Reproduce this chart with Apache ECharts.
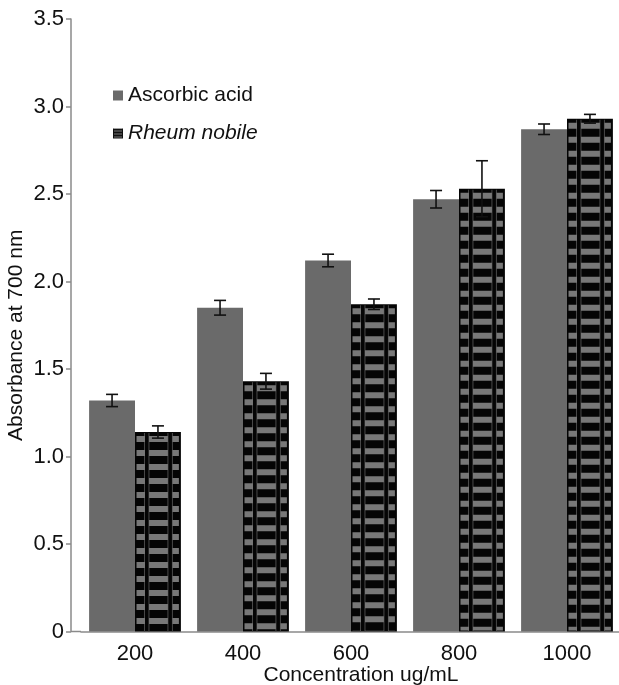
<!DOCTYPE html>
<html>
<head>
<meta charset="utf-8">
<script src="https://cdn.jsdelivr.net/npm/echarts@6/dist/echarts.min.js"></script>
<style>
  html, body { margin: 0; padding: 0; background: #fff; }
  #chart { width: 619px; height: 685px; }
</style>
</head>
<body>
<div id="chart"></div>
<script>
// data
const categories = ['200', '400', '600', '800', '1000']
const seriesNames = ['Ascorbic acid', 'Rheum nobile']
const ascorbic = [1.32, 1.85, 2.12, 2.47, 2.87]
const ascorbicErr = [0.035, 0.042, 0.036, 0.05, 0.03]
const rheum = [1.14, 1.43, 1.87, 2.53, 2.93]
const rheumErr = [0.035, 0.045, 0.03, 0.16, 0.025]
const yTicks = [0, 0.5, 1, 1.5, 2, 2.5, 3, 3.5]

const FONT = "'Liberation Sans', Arial, sans-serif"
const GRID_LEFT = 81
const GAP = 0.15           // barCategoryGap
const ROW = 14             // ladder stripe period, px
const GREY_ROW = 6

function makeIcon() {
  const c = document.createElement('canvas')
  c.width = 10; c.height = 3
  const g = c.getContext('2d')
  g.fillStyle = '#111'; g.fillRect(0, 0, 10, 3)
  g.fillStyle = '#777'; g.fillRect(1, 2, 8, 1)
  return c
}

// grey rungs + rails drawn inside each black Rheum bar
function ladderFill(vals) {
  return {
    type: 'custom',
    name: 'ladder',
    z: 3,
    silent: true,
    data: vals.map((v, i) => [i, v]),
    renderItem(params, api) {
      const i = api.value(0), v = api.value(1)
      const catW = api.size([1, 0])[0]
      const bw = catW * (1 - GAP) / 2
      const left = api.coord([i, v])[0]
      const top = api.coord([i, v])[1]
      const bottom = api.coord([i, 0])[1]
      const k = bw / 46
      const cells = [[1.5, 10], [14, 33], [37.5, 44]]
      const kids = []
      // faint edges beside the rails
      ;[9.5, 14, 33, 37.5].forEach(dx => kids.push({
        type: 'rect', shape: { x: left + dx * k - 0.5, y: top + 1, width: 1, height: bottom - top - 1 },
        style: { fill: '#4a4a4a' }
      }))
      for (let y = top + 4; y < bottom - 1; y += ROW) {
        const h = Math.min(GREY_ROW, bottom - 1 - y)
        cells.forEach(([a, b]) => kids.push({
          type: 'rect', shape: { x: left + a * k, y: y, width: (b - a) * k, height: h },
          style: { fill: '#787878' }
        }))
      }
      return { type: 'group', children: kids }
    }
  }
}

function errorBars(vals, errs, side, name) {
  return {
    type: 'custom',
    name: name,
    z: 5,
    silent: true,
    data: vals.map((v, i) => [i, v, errs[i]]),
    renderItem(params, api) {
      const i = api.value(0), v = api.value(1), e = api.value(2)
      const catW = api.size([1, 0])[0]
      const x = api.coord([i, v])[0] + side * catW * (1 - GAP) / 4
      const top = api.coord([i, v + e])[1]
      const bot = api.coord([i, v - e])[1]
      const st = { stroke: '#111', lineWidth: 1.6 }
      return {
        type: 'group',
        children: [
          { type: 'line', shape: { x1: x, y1: top, x2: x, y2: bot }, style: st },
          { type: 'line', shape: { x1: x - 6, y1: top, x2: x + 6, y2: top }, style: st },
          { type: 'line', shape: { x1: x - 6, y1: bot, x2: x + 6, y2: bot }, style: st }
        ]
      }
    }
  }
}

const chart = echarts.init(document.getElementById('chart'), null, { renderer: 'canvas' })

chart.setOption({
  animation: false,
  textStyle: { fontFamily: FONT },
  grid: { left: GRID_LEFT, right: -2, top: 19, bottom: 53.5, outerBoundsMode: 'none', containLabel: false },
  legend: {
    orient: 'vertical',
    left: 108, top: 80,
    itemWidth: 10, itemHeight: 10, itemGap: 17,
    data: [
      { name: seriesNames[0], icon: 'rect' },
      { name: seriesNames[1], icon: 'rect', itemStyle: { color: { image: makeIcon(), repeat: 'repeat' } } }
    ],
    formatter: n => n === seriesNames[1] ? '{it|' + n + '}' : n,
    textStyle: {
      fontFamily: FONT, fontSize: 21, color: '#111',
      rich: { it: { fontFamily: FONT, fontSize: 21, fontStyle: 'italic', color: '#111' } }
    }
  },
  xAxis: {
    type: 'category',
    data: categories,
    name: 'Concentration ug/mL',
    nameLocation: 'middle',
    nameGap: 33,
    nameMoveOverlap: false,
    nameTextStyle: { fontFamily: FONT, fontSize: 21, color: '#111', padding: [0, 0, 0, 20] },
    axisLine: { lineStyle: { color: '#8a8a8a', width: 1.5 } },
    axisTick: { length: 5, lineStyle: { color: '#8a8a8a', width: 1.5 } },
    axisLabel: { fontFamily: FONT, fontSize: 22, color: '#111', margin: 11 }
  },
  yAxis: {
    type: 'value',
    min: yTicks[0], max: yTicks[yTicks.length - 1], interval: 0.5,
    offset: 10,
    name: 'Absorbance at 700 nm',
    nameLocation: 'middle',
    nameGap: 44,
    nameMoveOverlap: false,
    nameTextStyle: { fontFamily: FONT, fontSize: 21, color: '#111', padding: [0, 20, 0, 0] },
    axisLine: { show: true, lineStyle: { color: '#8a8a8a', width: 1.5 } },
    axisTick: { show: true, length: 5, lineStyle: { color: '#8a8a8a', width: 1.5 } },
    axisLabel: {
      fontFamily: FONT, fontSize: 22, color: '#111', margin: 7,
      formatter: v => v === 0 ? '0' : v.toFixed(1)
    },
    splitLine: { show: false }
  },
  series: [
    {
      type: 'bar', name: seriesNames[0], data: ascorbic,
      barGap: '0%', barCategoryGap: (GAP * 100) + '%',
      itemStyle: { color: '#6a6a6a' }
    },
    {
      type: 'bar', name: seriesNames[1], data: rheum,
      itemStyle: { color: '#050505' }
    },
    ladderFill(rheum),
    errorBars(ascorbic, ascorbicErr, -1, 'errA'),
    errorBars(rheum, rheumErr, 1, 'errR')
  ]
})

// carry the x axis line back to the shifted y axis
const y0 = chart.convertToPixel({ yAxisIndex: 0 }, 0)
chart.setOption({
  graphic: [{
    type: 'line', silent: true,
    shape: { x1: GRID_LEFT - 10, y1: y0, x2: GRID_LEFT, y2: y0 },
    style: { stroke: '#8a8a8a', lineWidth: 1.5 }
  }]
})
</script>
</body>
</html>
